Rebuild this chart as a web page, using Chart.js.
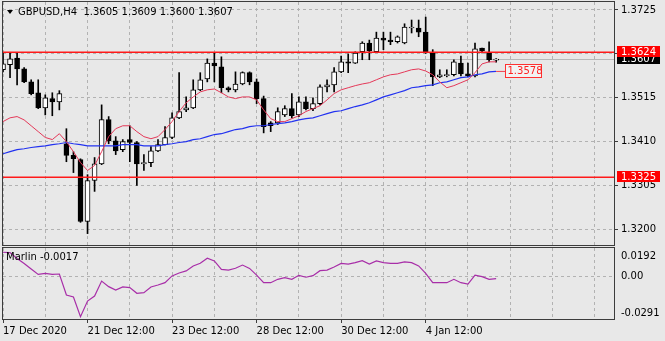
<!DOCTYPE html>
<html>
<head>
<meta charset="utf-8">
<title>GBPUSD,H4</title>
<script src="https://cdn.jsdelivr.net/npm/chart.js@4.4.1/dist/chart.umd.min.js"></script>
<style>
    html, body { margin: 0; padding: 0; background: #e8e8e8; }
    #wrap { position: relative; width: 665px; height: 341px; overflow: hidden; }
    #wrap canvas { position: absolute; left: 0; }
    #price { top: 0; }
    #marlin { top: 247px; }
</style>
</head>
<body>
<div id="wrap">
    <canvas id="price" width="665" height="247"></canvas>
    <canvas id="marlin" width="665" height="94"></canvas>
</div>
<script>
// GBPUSD H4 bars, 17 Dec 2020 12:00 .. 5 Jan 2021
const opens = [1.3582, 1.3594, 1.3610, 1.3584, 1.3553, 1.3527, 1.3491, 1.3513, 1.3505, 1.3405,
    1.3377, 1.3367, 1.3219, 1.3317, 1.3357, 1.3463, 1.3412, 1.3391, 1.3415, 1.3408,
    1.3357, 1.3360, 1.3388, 1.3403, 1.3420, 1.3467, 1.3486, 1.3491, 1.3534, 1.3560,
    1.3598, 1.3589, 1.3539, 1.3534, 1.3548, 1.3575, 1.3553, 1.3513, 1.3455, 1.3455,
    1.3474, 1.3489, 1.3474, 1.3505, 1.3489, 1.3501, 1.3541, 1.3546, 1.3577, 1.3601,
    1.3598, 1.3625, 1.3646, 1.3625, 1.3658, 1.3653, 1.3649, 1.3646, 1.3682, 1.3682,
    1.3672, 1.3622, 1.3565, 1.3568, 1.3570, 1.3598, 1.3572, 1.3567, 1.3634, 1.3622, 1.3605];
const highs = [1.3622, 1.3622, 1.3622, 1.3587, 1.3558, 1.3558, 1.3522, 1.3527, 1.3532, 1.3441,
    1.3386, 1.3369, 1.3331, 1.3372, 1.3498, 1.3470, 1.3422, 1.3415, 1.3448, 1.3410,
    1.3379, 1.3398, 1.3415, 1.3446, 1.3479, 1.3575, 1.3517, 1.3558, 1.3575, 1.3608,
    1.3622, 1.3613, 1.3541, 1.3577, 1.3577, 1.3577, 1.3560, 1.3519, 1.3458, 1.3491,
    1.3496, 1.3525, 1.3517, 1.3517, 1.3515, 1.3546, 1.3558, 1.3587, 1.3615, 1.3620,
    1.3625, 1.3649, 1.3653, 1.3672, 1.3672, 1.3672, 1.3663, 1.3692, 1.3701, 1.3701,
    1.3708, 1.3630, 1.3582, 1.3582, 1.3606, 1.3615, 1.3598, 1.3646, 1.3634, 1.3649, 1.3609];
const lows = [1.3577, 1.3563, 1.3546, 1.3551, 1.3522, 1.3489, 1.3474, 1.3472, 1.3486, 1.3362,
    1.3336, 1.3217, 1.3190, 1.3291, 1.3355, 1.3405, 1.3379, 1.3386, 1.3362, 1.3305,
    1.3341, 1.3350, 1.3386, 1.3402, 1.3417, 1.3465, 1.3482, 1.3489, 1.3532, 1.3553,
    1.3553, 1.3527, 1.3529, 1.3529, 1.3546, 1.3546, 1.3501, 1.3431, 1.3434, 1.3451,
    1.3470, 1.3467, 1.3470, 1.3486, 1.3484, 1.3498, 1.3529, 1.3529, 1.3575, 1.3575,
    1.3597, 1.3606, 1.3606, 1.3623, 1.3630, 1.3642, 1.3646, 1.3644, 1.3670, 1.3661,
    1.3621, 1.3544, 1.3563, 1.3565, 1.3567, 1.3567, 1.3565, 1.3565, 1.3622, 1.3601, 1.3600];
const closes = [1.3596, 1.3608, 1.3584, 1.3553, 1.3525, 1.3491, 1.3515, 1.3505, 1.3525, 1.3377,
    1.3369, 1.3219, 1.3317, 1.3357, 1.3463, 1.3412, 1.3388, 1.3410, 1.3408, 1.3357,
    1.3360, 1.3388, 1.3403, 1.3420, 1.3467, 1.3482, 1.3491, 1.3534, 1.3558, 1.3598,
    1.3591, 1.3539, 1.3534, 1.3548, 1.3575, 1.3553, 1.3513, 1.3446, 1.3448, 1.3482,
    1.3489, 1.3472, 1.3505, 1.3489, 1.3501, 1.3541, 1.3546, 1.3577, 1.3601, 1.3598,
    1.3622, 1.3646, 1.3627, 1.3658, 1.3653, 1.3649, 1.3661, 1.3684, 1.3684, 1.3672,
    1.3622, 1.3565, 1.3570, 1.3570, 1.3601, 1.3572, 1.3567, 1.3632, 1.3627, 1.3606, 1.3607];

// moving averages (red = fast, blue = slow)
const maFast = [1.3458, 1.3467, 1.3470, 1.3462, 1.3448, 1.3434, 1.3420, 1.3415, 1.3429, 1.3410,
    1.3386, 1.3360, 1.3341, 1.3353, 1.3386, 1.3422, 1.3441, 1.3448, 1.3448, 1.3434,
    1.3422, 1.3417, 1.3422, 1.3439, 1.3458, 1.3482, 1.3503, 1.3517, 1.3529, 1.3534,
    1.3536, 1.3527, 1.3517, 1.3513, 1.3517, 1.3517, 1.3510, 1.3486, 1.3465, 1.3458,
    1.3458, 1.3465, 1.3472, 1.3482, 1.3489, 1.3496, 1.3510, 1.3525, 1.3534, 1.3539,
    1.3544, 1.3548, 1.3551, 1.3558, 1.3565, 1.3570, 1.3572, 1.3577, 1.3582, 1.3584,
    1.3579, 1.3570, 1.3553, 1.3539, 1.3544, 1.3551, 1.3558, 1.3575, 1.3596, 1.3601, 1.3601];
const maSlow = [1.3381, 1.3386, 1.3391, 1.3393, 1.3396, 1.3398, 1.3400, 1.3403, 1.3405, 1.3408,
    1.3405, 1.3403, 1.3400, 1.3400, 1.3400, 1.3400, 1.3400, 1.3403, 1.3403, 1.3403,
    1.3400, 1.3400, 1.3400, 1.3403, 1.3405, 1.3408, 1.3410, 1.3415, 1.3417, 1.3422,
    1.3427, 1.3429, 1.3434, 1.3439, 1.3441, 1.3446, 1.3448, 1.3448, 1.3451, 1.3453,
    1.3455, 1.3458, 1.3462, 1.3465, 1.3467, 1.3472, 1.3477, 1.3482, 1.3484, 1.3489,
    1.3494, 1.3498, 1.3503, 1.3510, 1.3517, 1.3522, 1.3527, 1.3532, 1.3539, 1.3541,
    1.3544, 1.3546, 1.3551, 1.3553, 1.3558, 1.3563, 1.3565, 1.3570, 1.3572, 1.3577, 1.3578];

// Marlin oscillator, lower window
const marlin = [0.0163, 0.0161, 0.0121, 0.0087, 0.0049, 0.0012, 0.0020, 0.0013, 0.0015, -0.0128,
    -0.0141, -0.0275, -0.0169, -0.0135, -0.0033, -0.0071, -0.0094, -0.0073, -0.0077, -0.0116,
    -0.0112, -0.0073, -0.0060, -0.0044, 0.0002, 0.0022, 0.0036, 0.0070, 0.0088, 0.0122,
    0.0104, 0.0047, 0.0042, 0.0054, 0.0076, 0.0053, 0.0008, -0.0044, -0.0044, -0.0021,
    -0.0010, -0.0021, 0.0006, -0.0007, 0.0004, 0.0038, 0.0042, 0.0063, 0.0087, 0.0083,
    0.0092, 0.0106, 0.0083, 0.0104, 0.0092, 0.0088, 0.0088, 0.0097, 0.0092, 0.0070,
    0.0020, -0.0044, -0.0044, -0.0044, -0.0021, -0.0044, -0.0053, 0.0008, -0.0003, -0.0021, -0.0017];

// axes
const timeLabels = ['17 Dec 2020', '21 Dec 12:00', '23 Dec 12:00', '28 Dec 12:00', '30 Dec 12:00', '4 Jan 12:00'];
const labelBars = [0, 12, 24, 36, 48, 60];
const priceTicks = [1.3725, 1.3620, 1.3515, 1.3410, 1.3305, 1.3200];
const marlinTicks = [0.0192, 0, -0.0291];

// horizontal lines and bid
const levels = [1.3624, 1.3325];
const bidPrice = 1.3607;

const FONT = { family: '"DejaVu Sans", sans-serif', size: 10 };
const FONT_CSS = '10px "DejaVu Sans", sans-serif';
const INK = '#000000';
const FRAME = '#3c3c3c';
const GRID = '#b2b2b2';
const LEVEL = '#ff1a1a';
const X_MAX = 86.73;

const gridBars = Array.from({ length: 15 }, (_, k) => k * 6);
const barIndex = opens.map((_, i) => i);
const last = barIndex.length - 1;

const drawFrame = function(ctx, a) {
    ctx.save();
    ctx.strokeStyle = FRAME;
    ctx.lineWidth = 1;
    ctx.strokeRect(a.left - 0.5, a.top - 0.5, a.right - a.left + 1, a.bottom - a.top + 1);
    ctx.restore();
}

// right axis keeps a fixed width and no label overhang
const fixRightAxis = function(s) {
    s.width = 51;
    s.paddingTop = 0;
    s.paddingBottom = 0;
}

// coloured price tag on the right axis
const priceTag = function(ctx, a, y, text, fill) {
    ctx.fillStyle = fill;
    ctx.fillRect(a.right + 3, Math.round(y) - 6, 43, 11);
    ctx.fillStyle = '#ffffff';
    ctx.font = FONT_CSS;
    ctx.textAlign = 'left';
    ctx.textBaseline = 'middle';
    ctx.fillText(text, a.right + 7, Math.round(y));
}

const priceDecor = {
    id: 'priceDecor',
    beforeDatasetsDraw(chart) {
        const { ctx, chartArea: a, scales: { y } } = chart;
        const yb = Math.round(y.getPixelForValue(bidPrice)) + 0.5;
        ctx.save();
        ctx.strokeStyle = '#b8b8b8';
        ctx.lineWidth = 1;
        ctx.beginPath();
        ctx.moveTo(a.left, yb);
        ctx.lineTo(a.right, yb);
        ctx.stroke();
        ctx.restore();
    },
    afterDatasetsDraw(chart) {
        const { ctx, chartArea: a, scales: { y } } = chart;
        ctx.save();
        ctx.strokeStyle = LEVEL;
        ctx.lineWidth = 1.5;
        levels.forEach(function(level) {
            const py = Math.round(y.getPixelForValue(level)) + 0.25;
            ctx.beginPath();
            ctx.moveTo(a.left, py);
            ctx.lineTo(a.right, py);
            ctx.stroke();
        });
        ctx.restore();
    },
    afterDraw(chart) {
        const { ctx, chartArea: a, scales: { x, y } } = chart;
        drawFrame(ctx, a);

        // bid tag first, the level tags sit on top of it
        ctx.save();
        priceTag(ctx, a, y.getPixelForValue(bidPrice), bidPrice.toFixed(4), '#000000');
        levels.forEach(function(level) {
            priceTag(ctx, a, y.getPixelForValue(level), level.toFixed(4), '#ff0000');
        });

        // callout with the last slow MA value
        const mx = x.getPixelForValue(last);
        const my = y.getPixelForValue(maSlow[last]);
        const bx = Math.round(mx) + 9.5;
        const by = Math.round(my) - 6.5;
        ctx.strokeStyle = '#f04050';
        ctx.lineWidth = 1;
        ctx.beginPath();
        ctx.moveTo(mx, my);
        ctx.lineTo(bx, my);
        ctx.stroke();
        ctx.fillStyle = '#f2f2f2';
        ctx.fillRect(bx, by, 36, 13);
        ctx.strokeStyle = '#ff3030';
        ctx.strokeRect(bx, by, 36, 13);
        ctx.fillStyle = '#ff2020';
        ctx.font = FONT_CSS;
        ctx.textAlign = 'left';
        ctx.textBaseline = 'middle';
        ctx.fillText(maSlow[last].toFixed(4), bx + 2, by + 7);

        // symbol header with the last bar's OHLC
        ctx.fillStyle = INK;
        ctx.beginPath();
        ctx.moveTo(7, 10);
        ctx.lineTo(13, 10);
        ctx.lineTo(10, 14);
        ctx.closePath();
        ctx.fill();
        const ohlc = [opens[last], highs[last], lows[last], closes[last]].map(v => v.toFixed(4)).join(' ');
        ctx.fillText('GBPUSD,H4  ' + ohlc, 18, 12);
        ctx.restore();
    }
};

const priceChart = new Chart(document.getElementById('price'), {
    type: 'bar',
    data: {
        datasets: [{
            type: 'line',
            label: 'MA fast',
            data: barIndex.map(i => ({ x: i, y: maFast[i] })),
            borderColor: 'rgb(228,56,88)',
            borderWidth: 1,
            pointRadius: 0,
            order: 0
        }, {
            type: 'line',
            label: 'MA slow',
            data: barIndex.map(i => ({ x: i, y: maSlow[i] })),
            borderColor: 'rgb(34,50,240)',
            borderWidth: 1.2,
            pointRadius: 0,
            order: 1
        }, {
            label: 'body',
            data: barIndex.map(i => ({ x: i, y: [opens[i], closes[i]] })),
            backgroundColor: ctx => closes[ctx.dataIndex] >= opens[ctx.dataIndex] ? '#ffffff' : '#000000',
            borderColor: '#000000',
            borderWidth: 1,
            borderSkipped: false,
            minBarLength: 1,
            barThickness: 5,
            grouped: false,
            order: 2
        }, {
            label: 'wick',
            data: barIndex.map(i => ({ x: i, y: [lows[i], highs[i]] })),
            backgroundColor: '#000000',
            barThickness: 1,
            grouped: false,
            order: 3
        }]
    },
    options: {
        responsive: false,
        animation: false,
        devicePixelRatio: 1,
        events: [],
        layout: { autoPadding: false, padding: { left: 3, top: 2, right: 0, bottom: 2 } },
        plugins: { legend: { display: false }, tooltip: { enabled: false } },
        scales: {
            x: {
                type: 'linear',
                min: 0,
                max: X_MAX,
                offset: false,
                afterBuildTicks: s => { s.ticks = gridBars.map(v => ({ value: v })); },
                afterFit: s => { s.height = 0; },
                ticks: { display: false },
                grid: { color: GRID, drawTicks: false, offset: false },
                border: { display: false, dash: [3, 3] }
            },
            y: {
                position: 'right',
                beginAtZero: false,
                min: 1.316276,
                max: 1.37441,
                afterBuildTicks: s => { s.ticks = priceTicks.map(v => ({ value: v })); },
                afterFit: fixRightAxis,
                ticks: { color: INK, font: FONT, padding: 3, callback: v => v.toFixed(4) },
                grid: { color: GRID, tickColor: FRAME, tickLength: 4 },
                border: { display: false, dash: [3, 3] }
            }
        }
    },
    plugins: [priceDecor]
});

const marlinDecor = {
    id: 'marlinDecor',
    afterDraw(chart) {
        const { ctx, chartArea: a, scales: { y } } = chart;
        drawFrame(ctx, a);
        ctx.save();
        ctx.fillStyle = INK;
        ctx.font = FONT_CSS;
        ctx.textAlign = 'left';
        // scale labels kept inside the window edges
        marlinTicks.forEach(function(v, k) {
            const py = y.getPixelForValue(v);
            const text = v === 0 ? '0.00' : v.toFixed(4);
            if (k === 0) {
                ctx.textBaseline = 'top';
                ctx.fillText(text, a.right + 7, py + 3);
            } else if (k === marlinTicks.length - 1) {
                ctx.textBaseline = 'bottom';
                ctx.fillText(text, a.right + 7, py - 1);
            } else {
                ctx.textBaseline = 'middle';
                ctx.fillText(text, a.right + 7, py);
            }
        });
        ctx.textBaseline = 'middle';
        ctx.fillText('Marlin ' + marlin[last].toFixed(4), 6, 10);
        ctx.restore();
    }
};

const marlinChart = new Chart(document.getElementById('marlin'), {
    type: 'line',
    data: {
        datasets: [{
            label: 'Marlin',
            data: barIndex.map(i => ({ x: i, y: marlin[i] })),
            borderColor: 'rgb(168,46,168)',
            borderWidth: 1.2,
            pointRadius: 0
        }]
    },
    options: {
        responsive: false,
        animation: false,
        devicePixelRatio: 1,
        events: [],
        layout: { autoPadding: false, padding: { left: 3, top: 1, right: 0, bottom: 0 } },
        plugins: { legend: { display: false }, tooltip: { enabled: false } },
        scales: {
            x: {
                type: 'linear',
                min: 0,
                max: X_MAX,
                afterBuildTicks: s => { s.ticks = gridBars.map(v => ({ value: v })); },
                afterFit: s => { s.height = 22; },
                ticks: {
                    color: INK,
                    font: FONT,
                    align: 'start',
                    padding: 2,
                    maxRotation: 0,
                    autoSkip: false,
                    callback: v => {
                        const k = labelBars.indexOf(v);
                        return k < 0 ? '' : timeLabels[k];
                    }
                },
                grid: {
                    color: GRID,
                    tickLength: 4,
                    tickColor: ctx => (ctx.tick && labelBars.includes(ctx.tick.value)) ? FRAME : 'rgba(0,0,0,0)'
                },
                border: { display: false, dash: [3, 3] }
            },
            y: {
                position: 'right',
                min: -0.0291,
                max: 0.0192,
                afterBuildTicks: s => { s.ticks = [{ value: 0 }]; },
                afterFit: fixRightAxis,
                ticks: { display: false },
                grid: { color: GRID, drawTicks: false },
                border: { display: false, dash: [3, 3] }
            }
        }
    },
    plugins: [marlinDecor]
});
</script>
</body>
</html>
